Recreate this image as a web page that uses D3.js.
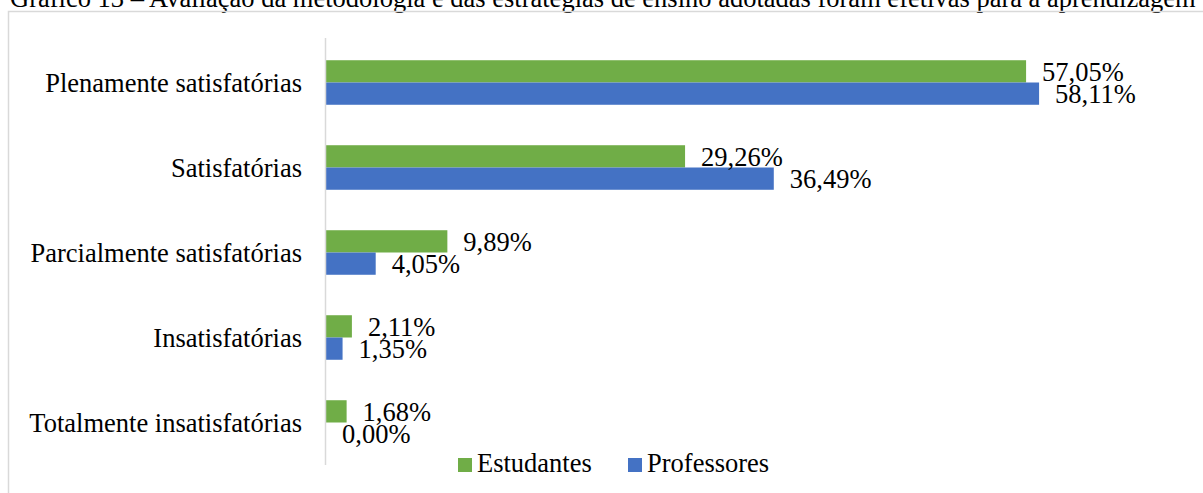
<!DOCTYPE html>
<html>
<head>
<meta charset="utf-8">
<script src="https://cdn.jsdelivr.net/npm/d3@7"></script>
<style>
  html, body { margin: 0; padding: 0; background: #fff; overflow: hidden; }
  svg { display: block; font-family: "Times New Roman", "Liberation Serif", serif; }
</style>
</head>
<body>
<svg id="chart" width="1203" height="493"></svg>
<script>
// categories top to bottom
var categories = ["Plenamente satisfatórias", "Satisfatórias", "Parcialmente satisfatórias", "Insatisfatórias", "Totalmente insatisfatórias"];
var series = ["Estudantes", "Professores"];
var estudantes = [57.05, 29.26, 9.89, 2.11, 1.68];
var professores = [58.11, 36.49, 4.05, 1.35, 0.00];
var colors = ["#70AD47", "#4472C4"];

var titleText = "Gráfico 13 – Avaliação da metodologia e das estratégias de ensino adotadas foram efetivas para a aprendizagem";

var svg = d3.select("#chart");
var fontSize = 26.5;
var serif = "'Times New Roman', 'Liberation Serif', serif";

// title, cut at the top of the picture
svg.append("text")
    .attr("x", 10)
    .attr("y", 7)
    .attr("font-size", fontSize)
    .attr("fill", "#000")
    .text(titleText);

// chart frame
svg.append("rect")
    .attr("x", 8.5)
    .attr("y", 11.5)
    .attr("width", 1300)
    .attr("height", 600)
    .attr("fill", "none")
    .attr("stroke", "#d9d9d9")
    .attr("stroke-width", 1.5);

var x = d3.scaleLinear().domain([0, 70]).range([326, 1185]);
var y = d3.scaleBand().domain(categories).range([40, 465]).paddingInner(0.476).paddingOuter(0.238);
var ySub = d3.scaleBand().domain(series).range([0, y.bandwidth()]);

var rows = categories.map(function(c, i) {
  return { cat: c, values: [estudantes[i], professores[i]] };
});

var group = svg.selectAll("g.cat")
  .data(rows)
  .enter().append("g")
    .attr("class", "cat")
    .attr("transform", function(d) { return "translate(0," + y(d.cat) + ")"; });

group.selectAll("rect")
  .data(function(d) { return d.values.map(function(v, j) { return { s: series[j], v: v, j: j }; }); })
  .enter().append("rect")
    .attr("x", x(0))
    .attr("y", function(d) { return ySub(d.s); })
    .attr("width", function(d) { return x(d.v) - x(0); })
    .attr("height", ySub.bandwidth())
    .attr("fill", function(d) { return colors[d.j]; });

group.selectAll("text.val")
  .data(function(d) { return d.values.map(function(v, j) { return { s: series[j], v: v }; }); })
  .enter().append("text")
    .attr("class", "val")
    .attr("x", function(d) { return x(d.v) + 16; })
    .attr("y", function(d) { return ySub(d.s) + ySub.bandwidth() / 2 + 9.5; })
    .attr("font-size", fontSize)
    .attr("fill", "#000")
    .text(function(d) { return d.v.toFixed(2).replace(".", ",") + "%"; });

// category axis
var yAxis = d3.axisLeft(y).tickSize(0).tickPadding(24);
var ax = svg.append("g")
    .attr("transform", "translate(" + x(0) + ",0)")
    .call(yAxis)
    .attr("font-family", serif)
    .attr("font-size", fontSize);
ax.select(".domain").attr("stroke", "#d9d9d9").attr("stroke-width", 1.5).attr("d", "M-0.5,38V465");
ax.selectAll("text")
    .attr("fill", "#000")
    .attr("dy", "0.34em");

// legend
var legendX = [458, 628];
var legend = svg.selectAll("g.legend")
  .data(series)
  .enter().append("g")
    .attr("class", "legend")
    .attr("transform", function(d, i) { return "translate(" + legendX[i] + ",458)"; });
legend.append("rect")
    .attr("width", 14).attr("height", 14)
    .attr("fill", function(d, i) { return colors[i]; });
legend.append("text")
    .attr("x", 19).attr("y", 14)
    .attr("font-size", fontSize)
    .attr("fill", "#000")
    .text(function(d) { return d; });
</script>
</body>
</html>
